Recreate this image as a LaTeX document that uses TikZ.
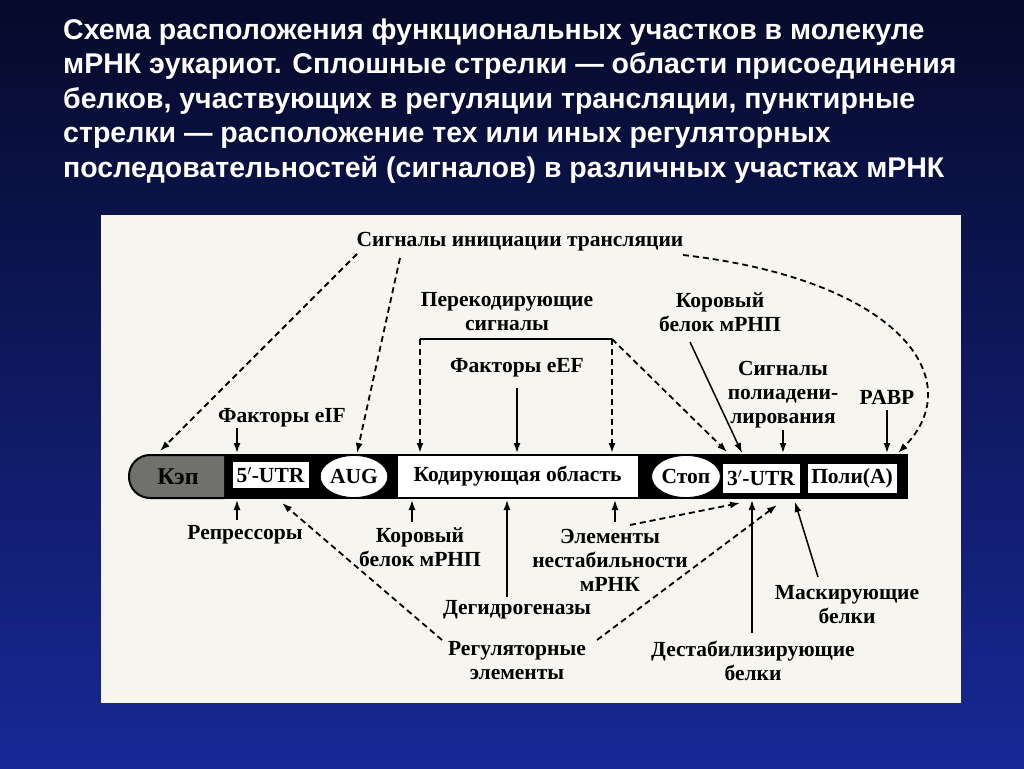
\documentclass[tikz,border=0pt]{standalone}
\usepackage{fontspec}
\setmainfont{Liberation Serif}
\newfontfamily\titlefont{Liberation Sans}
\usetikzlibrary{arrows.meta,shapes.geometric,calc}
\definecolor{bgtop}{RGB}{6,10,42}
\definecolor{bgbot}{RGB}{24,40,150}
\definecolor{panel}{RGB}{246,245,240}
\definecolor{capgray}{RGB}{112,112,108}
\begin{document}
\begin{tikzpicture}[x=1pt,y=-1pt,
  lbl/.style={inner sep=0pt,align=center,font=\bfseries\fontsize{21.5}{24}\selectfont},
  sarr/.style={line width=1.5pt,-{Latex[length=10pt,width=7pt]}},
  darr/.style={line width=1.8pt,dash pattern=on 6pt off 4pt,-{Latex[length=10pt,width=7pt]}},
  seg/.style={draw=black,fill=white,line width=0.8pt,inner sep=0pt,font=\bfseries\fontsize{21.5}{24}\selectfont},
  oval/.style={ellipse,fill=white,draw=black,line width=0.8pt,inner sep=0pt,font=\bfseries\fontsize{21.5}{24}\selectfont}]
\useasboundingbox (0,0) rectangle (1024,768);
% background
\shade[top color=bgtop,bottom color=bgbot] (0,0) rectangle (1024,768);
% title
\node[anchor=west,align=left,text=white,inner sep=0pt,
      font=\titlefont\bfseries\fontsize{28.5}{34.5}\selectfont] (title) at (63,101)
 {Схема расположения функциональных участков в молекуле\\
  мРНК эукариот. Сплошные стрелки — области присоединения\\
  белков, участвующих в регуляции трансляции, пунктирные\\
  стрелки — расположение тех или иных регуляторных\\
  последовательностей (сигналов) в различных участках мРНК};
% panel
\fill[panel] (101,215) rectangle (961,703);
% bar
\fill[black] (200,454) rectangle (908,499);
\draw[fill=capgray,line width=2pt,rounded corners=21pt] (224,455) -- (129,455) -- (129,498) -- (224,498);
\node[lbl,font=\bfseries\fontsize{24}{24}\selectfont] (cap) at (178,477) {Кэп};
\node[seg,minimum width=77pt,minimum height=27pt] (utr5) at (270.5,475) {5$'$-UTR};
\node[oval,minimum width=58pt,minimum height=42pt] (aug) at (354,476.5) {AUG};
\node[seg,minimum width=241pt,minimum height=42pt] (cod) at (517.5,476.5) {Кодирующая область};
\node[oval,minimum width=62pt,minimum height=42pt] (stop) at (686,476.5) {Стоп};
\node[seg,minimum width=78pt,minimum height=30pt] (utr3) at (761,478) {3$'$-UTR};
\node[seg,minimum width=90pt,minimum height=30pt] (polya) at (852,478) {Поли(A)};
% labels top
\node[lbl] (sig) at (520,242) {Сигналы инициации трансляции};
\node[lbl] (perek) at (507,312) {Перекодирующие\\сигналы};
\node[lbl] (eef) at (517,368) {Факторы eEF};
\node[lbl] (eif) at (282,418) {Факторы eIF};
\node[lbl] (kortop) at (720,312) {Коровый\\белок мРНП};
\node[lbl] (polyad) at (783,395) {Сигналы\\полиадени-\\лирования};
\node[lbl] (pabp) at (887,397) {PABP};
% labels bottom
\node[lbl] (rep) at (245,535) {Репрессоры};
\node[lbl] (korbot) at (420,547) {Коровый\\белок мРНП};
\node[lbl] (deg) at (517,610) {Дегидрогеназы};
\node[lbl] (elem) at (610,560) {Элементы\\нестабильности\\мРНК};
\node[lbl] (reg) at (517,661) {Регуляторные\\элементы};
\node[lbl] (destab) at (753,661) {Дестабилизирующие\\белки};
\node[lbl] (mask) at (847,605) {Маскирующие\\белки};
% coordinates
\coordinate (s1) at (357,254);
\coordinate (s2) at (400,258);
\coordinate (s3) at (683,255);
\coordinate (capT) at (160,451);
\coordinate (augT) at (357,453);
\coordinate (eifT) at (237,453);
\coordinate (eifS) at (237,428);
\coordinate (bl) at (420,339);
\coordinate (br) at (612,339);
\coordinate (codL) at (420,453);
\coordinate (codR) at (612,453);
\coordinate (utr3a) at (727,452);
\coordinate (eefS) at (517,388);
\coordinate (eefT) at (517,453);
\coordinate (korS) at (690,342);
\coordinate (korT) at (742,453);
\coordinate (polS) at (783,430);
\coordinate (polT) at (783,453);
\coordinate (pabS) at (887,410);
\coordinate (pabT) at (887,453);
\coordinate (paT) at (898,453);
\coordinate (repS) at (237,520);
\coordinate (repT) at (237,500);
\coordinate (regS1) at (442,640);
\coordinate (u5T) at (282,503);
\coordinate (kbS) at (412,522);
\coordinate (kbT) at (412,500);
\coordinate (degS) at (507,597);
\coordinate (degT) at (507,500);
\coordinate (elS) at (615,522);
\coordinate (elT) at (615,500);
\coordinate (elS2) at (630,525);
\coordinate (u3T1) at (740,503);
\coordinate (regS2) at (597,640);
\coordinate (u3T2) at (777,505);
\coordinate (dsS) at (752,633);
\coordinate (dsT) at (752,500);
\coordinate (mkS) at (818,577);
\coordinate (mkT) at (795,502);
% connectors top
\draw[darr] (s1) -- (capT);
\draw[darr] (s2) -- (augT);
\draw[sarr] (eifS) -- (eifT);
\draw[line width=1.5pt] (bl) -- (br);
\draw[darr] (bl) -- (codL);
\draw[darr] (br) -- (codR);
\draw[darr] (br) -- (utr3a);
\draw[sarr] (eefS) -- (eefT);
\draw[sarr] (korS) -- (korT);
\draw[sarr] (polS) -- (polT);
\draw[sarr] (pabS) -- (pabT);
\draw[darr] (s3) .. controls (900,280) and (970,380) .. (paT);
% connectors bottom
\draw[sarr] (repS) -- (repT);
\draw[darr] (regS1) -- (u5T);
\draw[sarr] (kbS) -- (kbT);
\draw[sarr] (degS) -- (degT);
\draw[sarr] (elS) -- (elT);
\draw[darr] (elS2) -- (u3T1);
\draw[darr] (regS2) -- (u3T2);
\draw[sarr] (dsS) -- (dsT);
\draw[sarr] (mkS) -- (mkT);
\end{tikzpicture}
\end{document}
